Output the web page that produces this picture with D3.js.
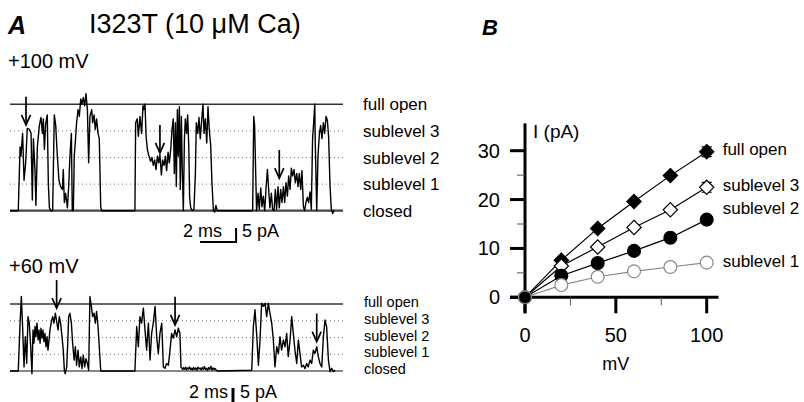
<!DOCTYPE html>
<html>
<head>
<meta charset="utf-8">
<script src="https://cdn.jsdelivr.net/npm/d3@7"></script>
<style>
  body { margin: 0; background: #fff; }
  svg { display: block; font-family: "Liberation Sans", Arial, sans-serif; }
</style>
</head>
<body>
<svg id="chart" width="804" height="402"></svg>
<script>
// single-channel records, [time ms, current pA]
const trace100 = [
  [0, 0], [0.46, 0], [0.56, 18], [0.61, 15.4], [0.70, 21.8], [0.78, 8.6], [0.87, 13.5], [0.96, 23.2],
  [1.07, 22.9], [1.17, 21.8], [1.24, 3], [1.30, 20.3], [1.39, 11.3], [1.44, 1.5], [1.52, 18], [1.63, 24],
  [1.72, 26.3], [1.80, 21.8], [1.85, 25.9], [1.91, 17.3], [1.98, 24.4], [2.07, 27], [2.13, 7.5], [2.19, 0.8],
  [2.28, 0], [2.37, 0], [2.46, 27], [2.54, 24], [2.63, 15.4], [2.72, 8.6], [2.81, 6.8], [2.91, 6],
  [2.96, 11.6], [3.02, 2.3], [3.09, 4.9], [3.19, 0.8], [3.26, 6.8], [3.33, 15.4], [3.41, 21.8], [3.46, 0],
  [3.52, 0.3], [3.57, 15.4], [3.65, 21], [3.70, 24.8], [3.78, 28.5], [3.85, 26.6], [3.93, 31.5], [4.00, 30],
  [4.07, 31.9], [4.15, 29.6], [4.22, 33], [4.30, 28.5], [4.37, 13.5], [4.44, 26.6], [4.54, 28.5], [4.59, 24.8],
  [4.67, 27], [4.74, 22.9], [4.81, 25.9], [4.89, 21.8], [4.96, 20.3], [5.04, 1.1], [5.09, 0],
  [6.94, 0], [6.98, 24.8], [7.07, 25.9], [7.13, 21], [7.22, 26.6], [7.31, 21.8], [7.39, 29.6], [7.44, 28.5],
  [7.50, 30], [7.56, 21], [7.63, 17.3], [7.72, 15.4], [7.81, 13.9], [7.89, 15], [7.96, 12.8], [8.04, 14.3],
  [8.11, 11.6], [8.19, 15.4], [8.26, 13.5], [8.33, 15.8], [8.41, 10.1], [8.48, 14.3], [8.56, 12.8], [8.63, 15.4],
  [8.70, 11.3], [8.78, 16.5], [8.85, 13.5], [8.93, 17.3], [9.00, 22.9], [9.07, 25.9], [9.13, 10.5], [9.19, 24.8],
  [9.24, 6.8], [9.30, 28.5], [9.35, 15.4], [9.41, 29.3], [9.46, 6], [9.52, 26.6], [9.57, 11.6], [9.63, 0],
  [9.69, 20.3], [9.74, 25.9], [9.81, 21.8], [9.87, 27], [9.93, 18.4], [9.98, 3.8], [10.04, 0.8], [10.13, 0],
  [10.22, 0.4], [10.30, 10.5], [10.35, 24.8], [10.43, 21.8], [10.50, 26.3], [10.57, 20.3], [10.65, 25.5], [10.72, 30],
  [10.78, 21.8], [10.85, 25.9], [10.93, 19.1], [11.00, 29.3], [11.07, 22.9], [11.15, 18.4], [11.22, 7.9], [11.30, 0],
  [11.37, -0.4], [11.44, 1.5], [11.52, 0],
  [13.43, 0], [13.48, 0], [13.54, 26.6], [13.59, 24], [13.65, 10.5], [13.70, 0], [13.78, 4.9], [13.85, 0.4],
  [13.93, 6.4], [14.00, 1.1], [14.07, 4.1], [14.15, 0], [14.22, 6], [14.30, 11.6], [14.37, 6], [14.44, 0.8],
  [14.52, 4.9], [14.59, 0.4], [14.67, 0], [14.74, 6], [14.81, 0.4], [14.89, 6.8], [14.96, 0.8], [15.04, 6],
  [15.11, 2.3], [15.19, 6.8], [15.26, 2.3], [15.33, 7.9], [15.41, 4.1], [15.48, 9.8], [15.56, 6], [15.63, 12],
  [15.70, 9.8], [15.78, 11.6], [15.85, 7.9], [15.93, 10.5], [16.00, 6.8], [16.07, 10.5], [16.15, 6], [16.22, 11.3],
  [16.30, 1.1], [16.37, 0], [16.44, 2.3], [16.52, 3.8], [16.59, 2.3], [16.67, 5.3], [16.74, 0.4], [16.81, 20.3],
  [16.87, 24.8], [16.93, 30], [16.96, 19.1], [17.04, 0], [17.11, 15.4], [17.19, 21.8], [17.26, 24], [17.33, 20.3],
  [17.41, 24.8], [17.48, 21.8], [17.56, 26.6], [17.63, 25.5], [17.70, 21], [17.78, 6.8], [17.85, 0.4], [17.93, -0.8],
  [18.00, 0.2]
];

const trace60 = [
  [0, 0], [0.46, 0], [0.56, 14.0], [0.63, 21.8], [0.70, 13.0], [0.78, 1.2], [0.85, 10.0], [0.93, 2.2],
  [1.00, 15.9], [1.07, 14.0], [1.15, 7.1], [1.22, -0.8], [1.28, 12.0], [1.33, 8.1], [1.39, 13.0], [1.44, 10.0],
  [1.50, 14.0], [1.56, 9.1], [1.61, 12.0], [1.67, 8.1], [1.72, 12.5], [1.78, 9.6], [1.83, 12.0], [1.89, 8.6],
  [1.94, 11.0], [2.00, 7.1], [2.06, 10.0], [2.11, 6.1], [2.17, 9.1], [2.22, 12.0], [2.30, 14.5], [2.37, 15.9],
  [2.44, 14.0], [2.52, 16.9], [2.59, 14.5], [2.67, 12.0], [2.74, 15.9], [2.81, 14.0], [2.89, 10.0], [2.96, 6.1],
  [3.02, 0.2], [3.07, -0.8], [3.15, 1.2], [3.20, 7.1], [3.26, 15.9], [3.33, 16.9], [3.41, 14.0], [3.48, 8.1],
  [3.56, 3.2], [3.63, 7.1], [3.70, 1.7], [3.78, 6.1], [3.85, 1.2], [3.93, 4.1], [4.00, 0.7], [4.07, 4.6],
  [4.15, 1.2], [4.22, 3.6], [4.30, 2.2], [4.37, 0.2], [4.44, 21.8], [4.52, 18.9], [4.59, 15.9], [4.67, 16.9],
  [4.74, 14.0], [4.81, 17.4], [4.89, 13.0], [4.96, 7.1], [5.04, 0],
  [6.94, 0], [7.04, 13.0], [7.13, 7.1], [7.22, 15.9], [7.31, 14.0], [7.41, 18.4], [7.50, 12.0], [7.59, 6.1],
  [7.69, 14.0], [7.78, 3.2], [7.87, 11.0], [7.96, 14.0], [8.06, 18.9], [8.15, 10.0], [8.24, 5.1], [8.33, 11.0],
  [8.43, 14.0], [8.52, 1.2], [8.61, 0.8], [8.70, 2.2], [8.80, 1.7], [8.89, 6.1], [8.98, 11.0], [9.07, 9.6],
  [9.17, 12.0], [9.26, 10.0], [9.35, 12.5], [9.44, 11.0], [9.50, 1.0],
  [9.54, 0.9], [9.60, 0.4], [9.65, 1.0], [9.70, 0.5], [9.76, 1.1], [9.81, 0.3], [9.87, 0.9], [9.92, 0.6],
  [9.98, 1.2], [10.04, 0.4], [10.10, 0.8], [10.15, 0.3], [10.20, 1.0], [10.26, 0.5], [10.32, 0.9], [10.38, 0.2],
  [10.44, 1.1], [10.50, 0.6], [10.56, 0.9], [10.62, 0.3], [10.68, 1.0], [10.74, 0.5], [10.80, 1.3], [10.86, 0.4],
  [10.92, 0.8], [10.98, 0.2], [11.04, 1.0], [11.10, 0.5], [11.16, 1.4], [11.22, 0.3], [11.28, 0.9], [11.34, 0.4],
  [11.40, 0.7], [11.48, 0.1], [11.55, 0],
  [13.43, 0.2], [13.52, 13.0], [13.61, 17.9], [13.70, 11.0], [13.80, 1.7], [13.89, 9.1], [13.98, 19.8], [14.07, 18.9],
  [14.17, 19.8], [14.26, 15.9], [14.35, 19.8], [14.44, 16.9], [14.54, 14.0], [14.63, 9.1], [14.72, 1.2], [14.82, 7.1],
  [14.91, 5.1], [15.00, 10.0], [15.09, 6.1], [15.19, 9.1], [15.28, 7.1], [15.37, 11.0], [15.46, 4.2], [15.56, 9.1],
  [15.65, 15.9], [15.74, 11.0], [15.83, 6.1], [15.93, 2.2], [16.02, 9.1], [16.11, 5.1], [16.20, 1.2], [16.30, 1.7],
  [16.39, 0.7], [16.48, 2.2], [16.57, 1.2], [16.67, 3.2], [16.76, 2.2], [16.85, 6.1], [16.94, 5.1], [17.04, 7.1],
  [17.13, 4.2], [17.22, 2.2], [17.32, 1.2], [17.41, 10.0], [17.50, 14.9], [17.59, 13.0], [17.69, 3.2], [17.78, -0.2],
  [17.87, 0.8], [17.96, -0.2], [18.06, 0.3]
];

// arrow tips [ms, pA]
const arrows100 = [[0.89, 24.2], [8.33, 16.3], [14.96, 9.2]];
const arrows60 = [[2.59, 18.4], [9.17, 13.5], [17.04, 8.6]];

const levelNames = ['full open', 'sublevel 3', 'sublevel 2', 'sublevel 1', 'closed'];
const levels100 = [30, 22.5, 15, 7.5, 0];
const levels60 = [19.6, 14.7, 9.8, 4.9, 0];

// I-V data
const voltages = [0, 20, 40, 60, 80, 100];
const ivFull = [0, 7.6, 14.1, 19.6, 24.9, 29.8];
const ivSub3 = [0, 6.4, 10.3, 14.3, 17.9, 22.5];
const ivSub2 = [0, 4.4, 7.0, 9.5, 12.2, 15.9];
const ivSub1 = [0, 2.5, 4.2, 5.3, 6.2, 7.1];
const errFull = [0, 0, 0, 0, 0, 1.0];
const errSub3 = [0, 0, 0, 0, 0, 1.0];
const yTicks = [0, 10, 20, 30];
const yMinor = [5, 15, 25];
const xTicks = [0, 50, 100];
const xMinor = [25, 75];

const svg = d3.select('#chart');

// ---------- panel A ----------
const xT = d3.scaleLinear().domain([0, 18.5]).range([10, 343]);
const yTop = d3.scaleLinear().domain([0, 30]).range([210.7, 104.3]);
const yBot = d3.scaleLinear().domain([0, 19.6]).range([371, 304]);

svg.append('text').attr('x', 8).attr('y', 34).attr('font-size', 25)
  .attr('font-weight', 'bold').attr('font-style', 'italic').text('A');
svg.append('text').attr('x', 89).attr('y', 33).attr('font-size', 27).text('I323T (10 \u03bcM Ca)');
svg.append('text').attr('x', 8).attr('y', 68).attr('font-size', 20).text('+100 mV');
svg.append('text').attr('x', 9).attr('y', 273).attr('font-size', 20).text('+60 mV');

function drawTrace(data, y, levels, arrows, opts) {
  const g = svg.append('g');
  levels.forEach((lv, i) => {
    const line = g.append('line')
      .attr('x1', xT(0)).attr('x2', xT(18.5))
      .attr('y1', y(lv)).attr('y2', y(lv));
    if (i === 0) line.attr('stroke', '#333').attr('stroke-width', 1.5);
    else if (i === levels.length - 1) line.attr('stroke', opts.closedColor).attr('stroke-width', 2.2);
    else line.attr('stroke', '#777').attr('stroke-width', 1).attr('stroke-dasharray', '1,3');
  });

  g.append('path').datum(data)
    .attr('fill', 'none').attr('stroke', '#000').attr('stroke-width', 1.4)
    .attr('stroke-linejoin', 'round')
    .attr('d', d3.line().x(d => xT(d[0])).y(d => y(d[1])));

  arrows.forEach(a => {
    const ax = xT(a[0]), ay = y(a[1]);
    g.append('line').attr('x1', ax).attr('x2', ax).attr('y1', ay - 28).attr('y2', ay - 2)
      .attr('stroke', '#000').attr('stroke-width', 1.7);
    g.append('path').attr('d', `M${ax - 4.5},${ay - 10}L${ax},${ay}L${ax + 4.5},${ay - 10}`)
      .attr('fill', 'none').attr('stroke', '#000').attr('stroke-width', 1.7);
  });

  levelNames.forEach((name, i) => {
    g.append('text').attr('x', opts.labelX).attr('y', y(levels[i]) + opts.labelDy)
      .attr('font-size', opts.labelSize).text(name);
  });
}

drawTrace(trace100, yTop, levels100, arrows100, { closedColor: '#444', labelX: 363, labelDy: 6, labelSize: 17 });
drawTrace(trace60, yBot, levels60, arrows60, { closedColor: '#888', labelX: 364, labelDy: 3, labelSize: 14.5 });

// scale bars
const sb = svg.append('g');
sb.append('path').attr('d', `M${xT(10.56)},242H${xT(12.56)}V228`)
  .attr('fill', 'none').attr('stroke', '#000').attr('stroke-width', 2);
sb.append('text').attr('x', 222).attr('y', 237).attr('font-size', 18).attr('text-anchor', 'end').text('2 ms');
sb.append('text').attr('x', 242).attr('y', 237).attr('font-size', 18).text('5 pA');
sb.append('line').attr('x1', 233).attr('x2', 233).attr('y1', 388).attr('y2', 402)
  .attr('stroke', '#000').attr('stroke-width', 3);
sb.append('text').attr('x', 228).attr('y', 398).attr('font-size', 18).attr('text-anchor', 'end').text('2 ms');
sb.append('text').attr('x', 240).attr('y', 398).attr('font-size', 18).text('5 pA');

// ---------- panel B ----------
const xB = d3.scaleLinear().domain([0, 100]).range([525, 706.7]);
const yB = d3.scaleLinear().domain([0, 30]).range([297.3, 150.7]);

svg.append('text').attr('x', 482).attr('y', 35).attr('font-size', 22)
  .attr('font-weight', 'bold').attr('font-style', 'italic').text('B');

const ax = svg.append('g');
ax.append('line').attr('x1', xB(0)).attr('x2', xB(0)).attr('y1', yB(35.6)).attr('y2', yB(0) + 16)
  .attr('stroke', '#000').attr('stroke-width', 3);
ax.append('line').attr('x1', xB(0) - 15).attr('x2', xB(106.5)).attr('y1', yB(0)).attr('y2', yB(0))
  .attr('stroke', '#000').attr('stroke-width', 3);
yTicks.forEach(t => {
  ax.append('line').attr('x1', xB(0) - 15).attr('x2', xB(0)).attr('y1', yB(t)).attr('y2', yB(t))
    .attr('stroke', '#000').attr('stroke-width', 3);
  ax.append('text').attr('x', 500).attr('y', yB(t) + 7).attr('font-size', 20)
    .attr('text-anchor', 'end').text(t);
});
yMinor.forEach(t => {
  ax.append('line').attr('x1', xB(0) - 8).attr('x2', xB(0)).attr('y1', yB(t)).attr('y2', yB(t))
    .attr('stroke', '#555').attr('stroke-width', 1);
});
xTicks.forEach(t => {
  ax.append('line').attr('x1', xB(t)).attr('x2', xB(t)).attr('y1', yB(0)).attr('y2', yB(0) + 16)
    .attr('stroke', '#000').attr('stroke-width', 3);
  ax.append('text').attr('x', xB(t)).attr('y', 342).attr('font-size', 20)
    .attr('text-anchor', 'middle').text(t);
});
xMinor.forEach(t => {
  ax.append('line').attr('x1', xB(t)).attr('x2', xB(t)).attr('y1', yB(0)).attr('y2', yB(0) + 8)
    .attr('stroke', '#555').attr('stroke-width', 1);
});
ax.append('text').attr('x', xB(50)).attr('y', 370).attr('font-size', 18)
  .attr('text-anchor', 'middle').text('mV');
ax.append('text').attr('x', 533).attr('y', 138).attr('font-size', 19).text('I (pA)');

const ivSeries = [
  { name: 'full open', vals: ivFull, err: errFull, shape: 'diamond', fill: '#000', stroke: '#000', line: '#000', dy: 3.5 },
  { name: 'sublevel 3', vals: ivSub3, err: errSub3, shape: 'diamond', fill: '#fff', stroke: '#000', line: '#000', dy: 3.5 },
  { name: 'sublevel 2', vals: ivSub2, err: null, shape: 'circle', fill: '#000', stroke: '#000', line: '#000', dy: -5.5 },
  { name: 'sublevel 1', vals: ivSub1, err: null, shape: 'circle', fill: '#fff', stroke: '#888', line: '#888', dy: 4 }
];

const ivLine = d3.line().x((d, i) => xB(voltages[i])).y(d => yB(d));

ivSeries.forEach(s => {
  const g = svg.append('g');
  g.append('path').datum(s.vals).attr('fill', 'none')
    .attr('stroke', s.line).attr('stroke-width', 1.2).attr('d', ivLine);
  if (s.err) {
    s.vals.forEach((v, i) => {
      if (!s.err[i]) return;
      const cx = xB(voltages[i]);
      g.append('path')
        .attr('d', `M${cx},${yB(v + s.err[i])}V${yB(v - s.err[i])}M${cx - 5},${yB(v + s.err[i])}H${cx + 5}M${cx - 5},${yB(v - s.err[i])}H${cx + 5}`)
        .attr('stroke', '#000').attr('stroke-width', 1.2).attr('fill', 'none');
    });
  }
  const sym = d3.symbol().type(s.shape === 'diamond' ? d3.symbolDiamond2 : d3.symbolCircle)
    .size(s.shape === 'diamond' ? 130 : 130);
  g.selectAll('path.pt').data(s.vals).join('path').attr('class', 'pt')
    .attr('transform', (d, i) => `translate(${xB(voltages[i])},${yB(d)})`)
    .attr('d', sym)
    .attr('fill', s.fill).attr('stroke', s.stroke).attr('stroke-width', 1.2);
  g.append('text').attr('x', xB(100) + 16).attr('y', yB(s.vals[s.vals.length - 1]) + s.dy)
    .attr('font-size', 17).text(s.name);
});

// origin point drawn on top
svg.append('path').attr('transform', `translate(${xB(0)},${yB(0)})`)
  .attr('d', d3.symbol().type(d3.symbolCircle).size(110)).attr('fill', '#000');
</script>
</body>
</html>
